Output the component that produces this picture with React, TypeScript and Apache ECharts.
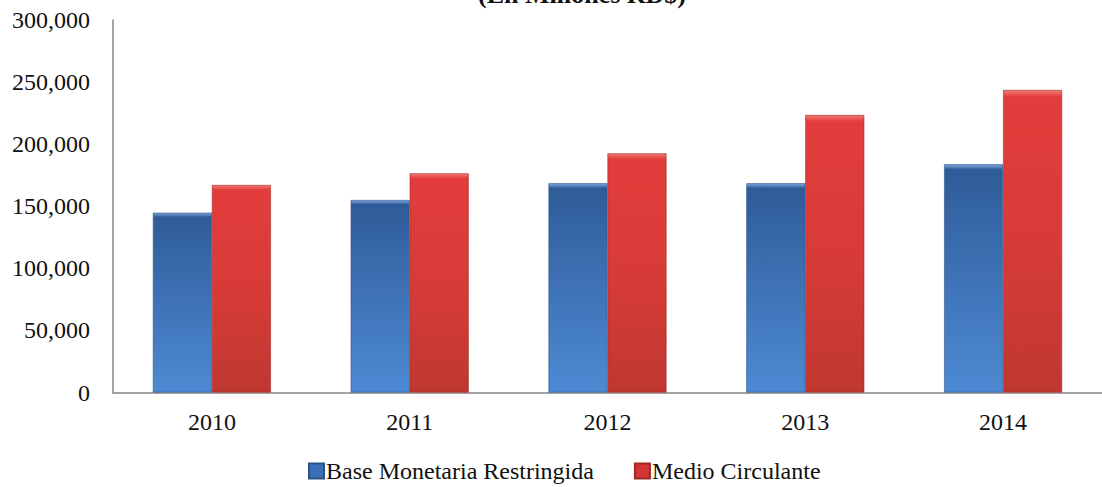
import React, { useEffect, useRef } from "react";
import * as echarts from "echarts";

const categories = ["2010", "2011", "2012", "2013", "2014"];
const baseMonetaria = [144800, 155000, 168500, 168500, 183800];
const medioCirculante = [167100, 176500, 192600, 223500, 243600];
const seriesNames = ["Base Monetaria Restringida", "Medio Circulante"];
const subtitle = "(En Millones RD$)";

const FONT = "'Liberation Serif', 'Times New Roman', serif";

export default function App() {
  const ref = useRef<HTMLDivElement>(null);
  useEffect(() => {
    if (!ref.current) return;
    const chart = echarts.init(ref.current, null, { renderer: "svg" });
    const blueGrad = new echarts.graphic.LinearGradient(0, 0, 0, 1, [
      { offset: 0, color: "#80a8de" },
      { offset: 0.022, color: "#2f5c98" },
      { offset: 0.45, color: "#3d70b3" },
      { offset: 1, color: "#4d8ad3" },
    ]);
    const redGrad = new echarts.graphic.LinearGradient(0, 0, 0, 1, [
      { offset: 0, color: "#f37a72" },
      { offset: 0.022, color: "#e23d3c" },
      { offset: 0.5, color: "#d83b37" },
      { offset: 1, color: "#bf3830" },
    ]);
    chart.setOption({
      animation: false,
      textStyle: { fontFamily: FONT },
      graphic: [
        {
          type: "text",
          left: 478,
          top: -19,
          style: {
            text: subtitle,
            font: `bold 26px ${FONT}`,
            fill: "#111",
          },
        },
      ],
      legend: {
        left: 303,
        top: 454,
        itemWidth: 15,
        itemHeight: 15,
        itemGap: 40,
        textStyle: { fontFamily: FONT, fontSize: 24, color: "#111", padding: [0, 0, 0, -3] },
        data: [
          { name: seriesNames[0], icon: "rect", itemStyle: { color: "#3b70b6" } },
          { name: seriesNames[1], icon: "rect", itemStyle: { color: "#d33434" } },
        ],
      },
      grid: { left: 113, top: 20, width: 1000, height: 372.5, containLabel: false },
      xAxis: {
        type: "category",
        data: categories,
        axisLine: { lineStyle: { color: "#858585", width: 1.5 } },
        axisTick: { show: false },
        axisLabel: { fontFamily: FONT, fontSize: 24, color: "#111", margin: 17 },
      },
      yAxis: {
        type: "value",
        min: 0,
        max: 300000,
        interval: 50000,
        axisLine: { show: true, lineStyle: { color: "#858585", width: 1.5 } },
        axisTick: { show: false },
        splitLine: { show: false },
        axisLabel: {
          fontFamily: FONT,
          fontSize: 24,
          color: "#111",
          margin: 23,
          formatter: (v: number) => v.toLocaleString("en-US"),
        },
      },
      series: [
        {
          name: seriesNames[0],
          type: "bar",
          data: baseMonetaria,
          barWidth: 59,
          barGap: "0%",
          itemStyle: { color: blueGrad, borderColor: "#2a5289", borderWidth: 0.6 },
        },
        {
          name: seriesNames[1],
          type: "bar",
          data: medioCirculante,
          barWidth: 59,
          barGap: "0%",
          itemStyle: { color: redGrad, borderColor: "#9e2a26", borderWidth: 0.6 },
        },
      ],
    });
    return () => chart.dispose();
  }, []);
  return (
    <div
      ref={ref}
      style={{ position: "fixed", left: 0, top: 0, width: 1102, height: 487, background: "#fff" }}
    />
  );
}
